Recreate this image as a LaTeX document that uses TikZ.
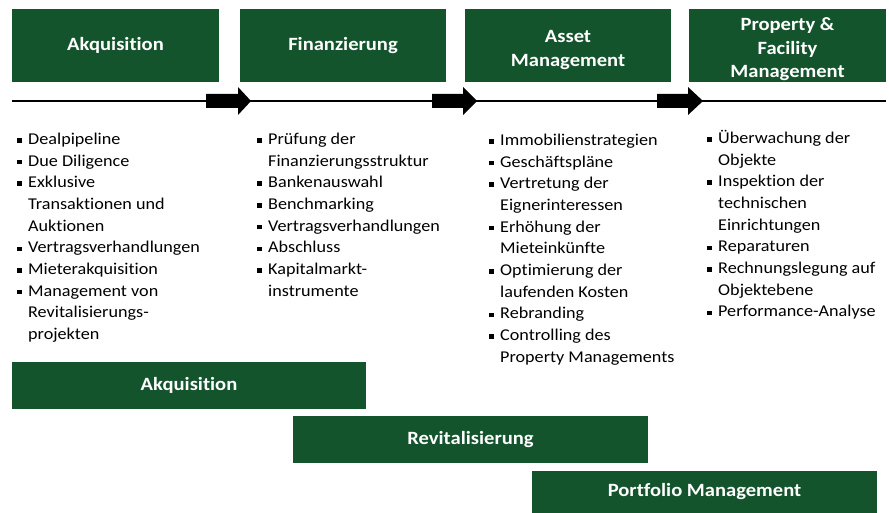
\documentclass[tikz,border=0pt]{standalone}
\usepackage{fontspec}
\setmainfont{Carlito}[FakeStretch=1.1, Ligatures=NoCommon]
\usepackage{tikz}
\usetikzlibrary{arrows.meta}
\usetikzlibrary{calc}

\definecolor{prgreen}{RGB}{20,84,44}
\newcommand{\bsq}{\raisebox{1.8pt}{\rule{4.5pt}{4.5pt}}}

\begin{document}
\begin{tikzpicture}[x=1pt, y=-1pt, every node/.style={inner sep=0pt}, phase/.style={fill=prgreen, text=white, align=center, font=\fontsize{18.7}{23.5}\selectfont\bfseries, minimum height=73pt}, stage/.style={fill=prgreen, text=white, align=center, font=\fontsize{18.7}{23}\selectfont\bfseries, minimum height=47pt}, tasks/.style={anchor=north west, align=left, font=\fontsize{16.5}{21.7}\selectfont}]
\useasboundingbox (0,0) rectangle (889,513);

\node[phase, minimum width=207pt] (p1) at (115.5,45.5) {Akquisition};
\node[phase, minimum width=206pt] (p2) at (343,45.5) {Finanzierung};
\node[phase, minimum width=206pt] (p3) at (568,45.5) {\rule{0pt}{21pt}Asset\\Management};
\node[phase, minimum width=197pt] (p4) at (787.5,45.5) {\rule{0pt}{21pt}Property \&\\Facility\\Management};

% timeline
\coordinate (tl0) at (12,101);
\coordinate (tl1) at (886,101);
\draw[line width=1.6pt] (tl0) -- (tl1);
\fill (206,94) -- (238,94) -- (238,87) -- (251,101) -- (238,115) -- (238,108) -- (206,108) -- cycle;
\fill (432,94) -- (463,94) -- (463,87) -- (477,101) -- (463,115) -- (463,108) -- (432,108) -- cycle;
\fill (657,94) -- (688,94) -- (688,87) -- (703,101) -- (688,115) -- (688,108) -- (657,108) -- cycle;

\node[tasks] (t1) at (17,129) {\begin{tabular}{@{}l@{\hspace{6.5pt}}l@{}}
\bsq & Dealpipeline\\
\bsq & Due Diligence\\
\bsq & Exklusive\\
 & Transaktionen und\\
 & Auktionen\\
\bsq & Vertragsverhandlungen\\
\bsq & Mieterakquisition\\
\bsq & Management von\\
 & Revitalisierungs-\\
 & projekten
\end{tabular}};
\node[tasks] (t2) at (257,129) {\begin{tabular}{@{}l@{\hspace{6.5pt}}l@{}}
\bsq & Prüfung der\\
 & Finanzierungsstruktur\\
\bsq & Bankenauswahl\\
\bsq & Benchmarking\\
\bsq & Vertragsverhandlungen\\
\bsq & Abschluss\\
\bsq & Kapitalmarkt-\\
 & instrumente
\end{tabular}};
\node[tasks] (t3) at (489,130) {\begin{tabular}{@{}l@{\hspace{6.5pt}}l@{}}
\bsq & Immobilienstrategien\\
\bsq & Geschäftspläne\\
\bsq & Vertretung der\\
 & Eignerinteressen\\
\bsq & Erhöhung der\\
 & Mieteinkünfte\\
\bsq & Optimierung der\\
 & laufenden Kosten\\
\bsq & Rebranding\\
\bsq & Controlling des\\
 & Property Managements
\end{tabular}};
\node[tasks] (t4) at (707,128) {\begin{tabular}{@{}l@{\hspace{6.5pt}}l@{}}
\bsq & Überwachung der\\
 & Objekte\\
\bsq & Inspektion der\\
 & technischen\\
 & Einrichtungen\\
\bsq & Reparaturen\\
\bsq & Rechnungslegung auf\\
 & Objektebene\\
\bsq & Performance-Analyse
\end{tabular}};

\node[stage, minimum width=354pt] (s1) at (189,385.5) {Akquisition};
\node[stage, minimum width=355pt] (s2) at (470.5,439.5) {Revitalisierung};
\node[stage, minimum width=345pt, minimum height=42pt] (s3) at (704.5,492) {Portfolio Management};
\end{tikzpicture}
\end{document}
